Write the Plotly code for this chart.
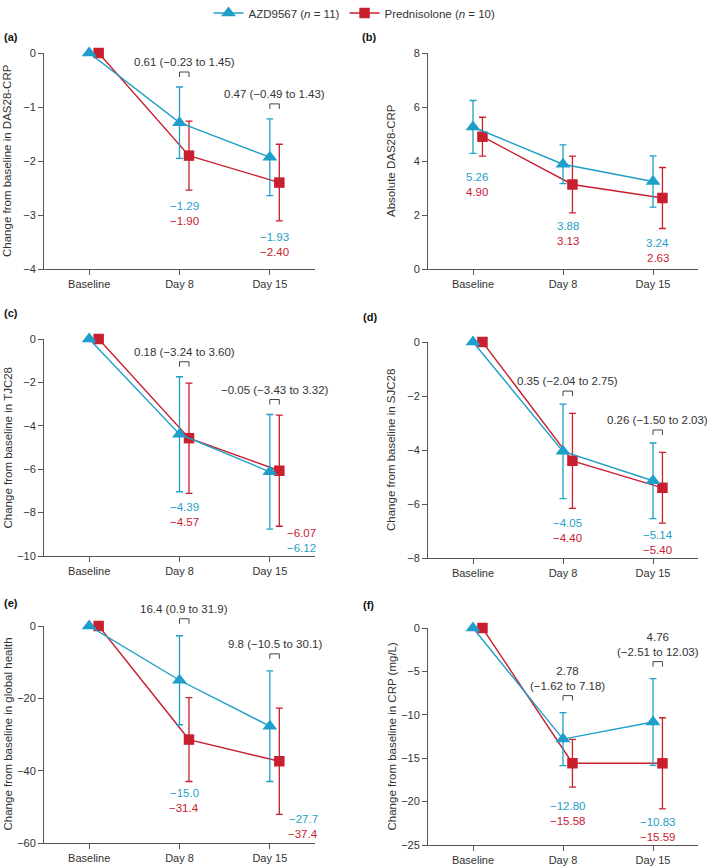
import plotly.graph_objects as go

W, H = 709, 868
CYAN = "#1e9fc9"
RED = "#c8202f"
INK = "#333333"
AXIS = "#555555"
FONT = "Liberation Sans, Arial, Helvetica, sans-serif"

TIMEPOINTS = ["Baseline", "Day 8", "Day 15"]
X_POS = [0, 1, 2]
X_RANGE = [-0.5, 2.5]
AZD_NAME = "AZD9567 (<i>n</i> = 11)"
PRED_NAME = "Prednisolone (<i>n</i> = 10)"

# (a) change from baseline in DAS28-CRP
A_AZD = [0, -1.29, -1.93]
A_AZD_ERR = [None, 0.66, 0.71]
A_PRED = [0, -1.90, -2.40]
A_PRED_ERR = [None, 0.64, 0.71]
A_DIFF = [None, "0.61 (−0.23 to 1.45)", "0.47 (−0.49 to 1.43)"]

# (b) absolute DAS28-CRP
B_AZD = [5.26, 3.88, 3.24]
B_AZD_ERR = [0.98, 0.72, 0.95]
B_PRED = [4.90, 3.13, 2.63]
B_PRED_ERR = [0.72, 1.05, 1.13]
B_DIFF = [None, None, None]

# (c) change from baseline in TJC28
C_AZD = [0, -4.39, -6.12]
C_AZD_ERR = [None, 2.65, 2.64]
C_PRED = [0, -4.57, -6.07]
C_PRED_ERR = [None, 2.54, 2.56]
C_DIFF = [None, "0.18 (−3.24 to 3.60)", "−0.05 (−3.43 to 3.32)"]

# (d) change from baseline in SJC28
D_AZD = [0, -4.05, -5.14]
D_AZD_ERR = [None, 1.75, 1.40]
D_PRED = [0, -4.40, -5.40]
D_PRED_ERR = [None, 1.76, 1.31]
D_DIFF = [None, "0.35 (−2.04 to 2.75)", "0.26 (−1.50 to 2.03)"]

# (e) change from baseline in global health
E_AZD = [0, -15.0, -27.7]
E_AZD_ERR = [None, 12.3, 15.3]
E_PRED = [0, -31.4, -37.4]
E_PRED_ERR = [None, 11.6, 14.7]
E_DIFF = [None, "16.4 (0.9 to 31.9)", "9.8 (−10.5 to 30.1)"]

# (f) change from baseline in CRP (mg/L)
F_AZD = [0, -12.80, -10.83]
F_AZD_ERR = [None, 3.05, 5.0]
F_PRED = [0, -15.58, -15.59]
F_PRED_ERR = [None, 2.75, 5.25]
F_DIFF = [None, "2.78<br>(−1.62 to 7.18)", "4.76<br>(−2.51 to 12.03)"]

PANELS = [
    dict(tag="(a)", title="Change from baseline in DAS28-CRP", azd=A_AZD, azd_err=A_AZD_ERR,
         pred=A_PRED, pred_err=A_PRED_ERR, diff=A_DIFF, yrange=[-4, 0], dtick=1, fmt="{:.2f}"),
    dict(tag="(b)", title="Absolute DAS28-CRP", azd=B_AZD, azd_err=B_AZD_ERR,
         pred=B_PRED, pred_err=B_PRED_ERR, diff=B_DIFF, yrange=[0, 8], dtick=2, fmt="{:.2f}"),
    dict(tag="(c)", title="Change from baseline in TJC28", azd=C_AZD, azd_err=C_AZD_ERR,
         pred=C_PRED, pred_err=C_PRED_ERR, diff=C_DIFF, yrange=[-10, 0], dtick=2, fmt="{:.2f}"),
    dict(tag="(d)", title="Change from baseline in SJC28", azd=D_AZD, azd_err=D_AZD_ERR,
         pred=D_PRED, pred_err=D_PRED_ERR, diff=D_DIFF, yrange=[-8, 0], dtick=2, fmt="{:.2f}"),
    dict(tag="(e)", title="Change from baseline in global health", azd=E_AZD, azd_err=E_AZD_ERR,
         pred=E_PRED, pred_err=E_PRED_ERR, diff=E_DIFF, yrange=[-60, 0], dtick=20, fmt="{:.1f}"),
    dict(tag="(f)", title="Change from baseline in CRP (mg/L)", azd=F_AZD, azd_err=F_AZD_ERR,
         pred=F_PRED, pred_err=F_PRED_ERR, diff=F_DIFF, yrange=[-25, 0], dtick=5, fmt="{:.2f}"),
]

# layout: plot boxes in pixels (left, right, top, bottom), panel tag positions
BOXES = [(44, 315, 53, 269), (428, 698, 53, 269),
         (44, 315, 339, 556), (428, 698, 342, 558),
         (44, 315, 626, 843), (428, 698, 628, 845)]
TAG_POS = [(2, 37), (360, 37), (2, 313), (361, 317), (2, 603), (361, 605)]
PRED_OFFSET = 0.105
BRACKET_GAP = [15, 17, 15, 13, 17, 17]
# value label anchors per timepoint: (x, y of first line, AZD first?)
VALUE_LABELS = [
    [None, (1.05, -2.83, True), (2.05, -3.40, True)],
    [(0.05, 3.42, True), (1.05, 1.59, True), (2.05, 0.95, True)],
    [None, (1.05, -7.72, True), (2.35, -8.95, False)],
    [None, (1.05, -6.70, True), (2.05, -7.16, True)],
    [None, (1.05, -46.2, True), (2.37, -53.4, True)],
    [None, (1.05, -20.5, True), (2.05, -22.4, True)],
]


def fmt_val(fmt, v):
    return fmt.format(v).replace("-", "−")


def to_paper(i, x, y, dy_px=0):
    """data -> paper coords for panel i (so shapes are not clipped to the plot box)."""
    left, right, top, bottom = BOXES[i]
    y0, y1 = PANELS[i]["yrange"]
    px = left + (x - X_RANGE[0]) / (X_RANGE[1] - X_RANGE[0]) * (right - left)
    py = bottom - (y - y0) / (y1 - y0) * (bottom - top) - dy_px
    return px / W, 1 - py / H


fig = go.Figure()
annotations = []
shapes = []
layout = {}

for i, p in enumerate(PANELS):
    n = i + 1
    xa, ya = f"x{n}", f"y{n}"
    left, right, top, bottom = BOXES[i]
    pred_x = [x + PRED_OFFSET for x in X_POS]

    for name, xs, ys, err, color, symbol, size in [
        (PRED_NAME, pred_x, p["pred"], p["pred_err"], RED, "square", 10.5),
        (AZD_NAME, X_POS, p["azd"], p["azd_err"], CYAN, "triangle-up", 13),
    ]:
        fig.add_trace(go.Scatter(
            x=xs, y=ys, xaxis=xa, yaxis=ya, name=name, mode="lines+markers",
            line=dict(color=color, width=1.4),
            marker=dict(symbol=symbol, size=size, color=color),
            error_y=dict(type="data", array=err, color=color, thickness=1.3, width=3.5),
            cliponaxis=False, showlegend=(i == 0), legendrank=2 if color == RED else 1,
            hoverinfo="skip"))

    layout[f"xaxis{n}"] = dict(
        domain=[left / W, right / W], anchor=ya, range=X_RANGE,
        tickvals=X_POS, ticktext=TIMEPOINTS, showline=True, linecolor=AXIS, linewidth=1,
        ticks="outside", ticklen=5, tickcolor=AXIS, showgrid=False, zeroline=False,
        tickfont=dict(size=11, color=INK, family=FONT), fixedrange=True)
    layout[f"yaxis{n}"] = dict(
        domain=[1 - bottom / H, 1 - top / H], anchor=xa, range=p["yrange"], dtick=p["dtick"],
        showline=True, linecolor=AXIS, linewidth=1, ticks="outside", ticklen=5,
        tickcolor=AXIS, showgrid=False, zeroline=False,
        tickfont=dict(size=11, color=INK, family=FONT), fixedrange=True)

    # y title and panel tag
    annotations.append(dict(
        text=p["title"], xref="paper", yref="paper", x=(left - 37) / W,
        y=1 - (top + bottom) / 2 / H, textangle=-90, showarrow=False,
        xanchor="center", yanchor="middle", font=dict(size=11.5, color=INK, family=FONT)))
    tx, ty = TAG_POS[i]
    annotations.append(dict(
        text=f"<b>{p['tag']}</b>", xref="paper", yref="paper", x=tx / W, y=1 - ty / H,
        showarrow=False, xanchor="left", yanchor="middle",
        font=dict(size=11, color="#111", family=FONT)))

    # difference brackets
    for t, label in enumerate(p["diff"]):
        if label is None:
            continue
        tops = [v + e for v, e in ((p["azd"][t], p["azd_err"][t]),
                                   (p["pred"][t], p["pred_err"][t])) if e is not None]
        anchor = max(tops)
        gap = BRACKET_GAP[i]
        x0, x1 = X_POS[t], pred_x[t]
        ax0, ay_lo = to_paper(i, x0, anchor, gap - 5)
        ax1, ay_hi = to_paper(i, x1, anchor, gap)
        shapes.append(dict(
            type="path", xref="paper", yref="paper",
            path=f"M{ax0},{ay_lo} L{ax0},{ay_hi} L{ax1},{ay_hi} L{ax1},{ay_lo}",
            line=dict(color="#444", width=1)))
        annotations.append(dict(
            text=label, xref=xa, yref=ya, x=(x0 + x1) / 2, y=anchor, yshift=gap + 2,
            showarrow=False, xanchor="center", yanchor="bottom",
            font=dict(size=11.5, color=INK, family=FONT)))

    # value labels
    for t, spec in enumerate(VALUE_LABELS[i]):
        if spec is None:
            continue
        lx, ly, azd_first = spec
        pair = [(fmt_val(p["fmt"], p["azd"][t]), CYAN), (fmt_val(p["fmt"], p["pred"][t]), RED)]
        if not azd_first:
            pair.reverse()
        for k, (txt, color) in enumerate(pair):
            annotations.append(dict(
                text=txt, xref=xa, yref=ya, x=lx, y=ly, yshift=-15 * k, showarrow=False,
                xanchor="center", yanchor="middle",
                font=dict(size=11.5, color=color, family=FONT)))

fig.update_layout(
    width=W, height=H, margin=dict(l=0, r=0, t=0, b=0, autoexpand=False),
    paper_bgcolor="white", plot_bgcolor="white",
    font=dict(family=FONT, size=11.5, color=INK),
    legend=dict(orientation="h", x=0.5, xanchor="center", y=1 - 13 / H, yanchor="middle",
                itemwidth=30, font=dict(size=11.5, color=INK, family=FONT),
                traceorder="normal", tracegroupgap=0),
    annotations=annotations, shapes=shapes, **layout)

# page body has a default 8px margin; drop it so the figure sits at the window origin
fig.write_html("out.html", config={"displayModeBar": False},
               post_script="document.body.style.margin = '0';")
